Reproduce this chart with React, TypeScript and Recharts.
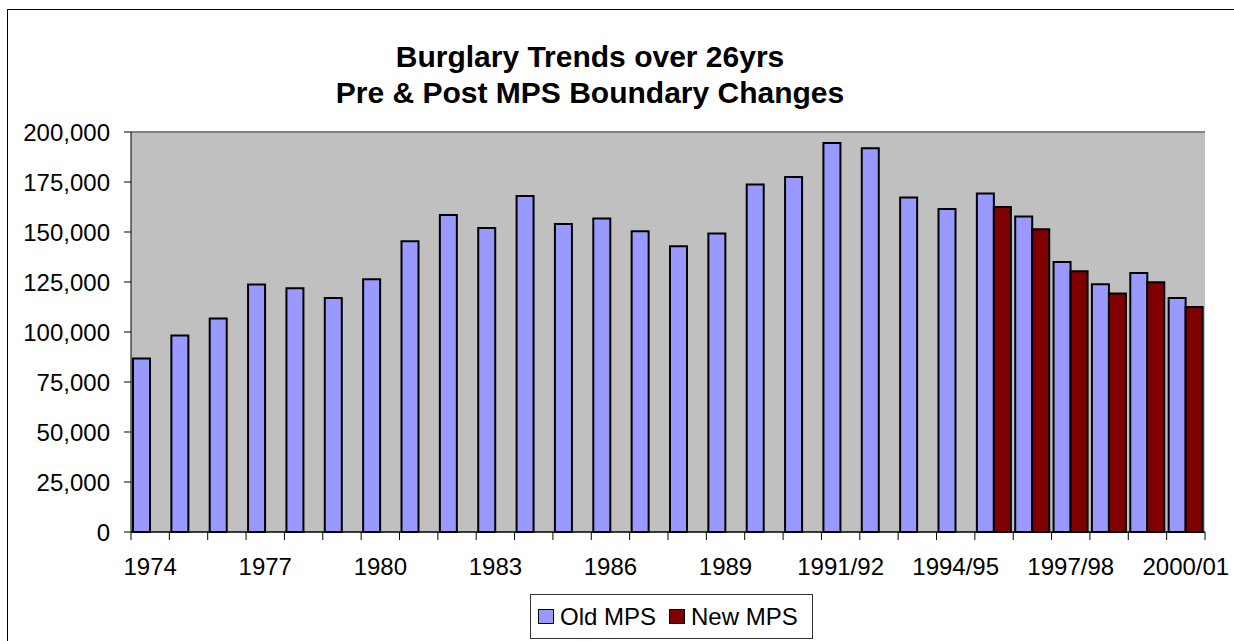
// Burglary trends bar chart: old vs new MPS boundaries, 1974 to 2000/01.
import { Bar, BarChart, CartesianGrid, Legend, ReferenceLine, XAxis, YAxis } from "recharts";

const categories = [
  "1974", "1975", "1976", "1977", "1978", "1979", "1980", "1981", "1982", "1983",
  "1984", "1985", "1986", "1987", "1988", "1989", "1990", "1990/91", "1991/92", "1992/93",
  "1993/94", "1994/95", "1995/96", "1996/97", "1997/98", "1998/99", "1999/00", "2000/01"
];

const oldMps = [
  86700, 98200, 106700, 123700, 121900, 117000, 126400, 145400, 158500, 152000,
  168000, 154000, 156700, 150400, 142900, 149200, 173700, 177500, 194500, 191900,
  167200, 161500, 169200, 157700, 135000, 123900, 129500, 117000
];

const newMps: (number | null)[] = [
  null, null, null, null, null, null, null, null, null, null,
  null, null, null, null, null, null, null, null, null, null,
  null, null, 162500, 151400, 130400, 119200, 124900, 112500
];

const xTickLabels = ["1974", "1977", "1980", "1983", "1986", "1989", "1991/92", "1994/95", "1997/98", "2000/01"];
const yTicks = [0, 25000, 50000, 75000, 100000, 125000, 150000, 175000, 200000];

const titleLines = ["Burglary Trends over 26yrs", "Pre & Post MPS Boundary Changes"];

const OLD_COLOR = "#9999FF";
const NEW_COLOR = "#800000";
const FONT = "'Liberation Sans', Arial, sans-serif";

const data = categories.map((c, i) => ({ name: c, old: oldMps[i], new: newMps[i] }));

// Excel-style category axis: tick marks between categories, labels every third category.
function CategoryTick(props: any) {
  const { x, y, payload, index } = props;
  const half = payload?.offset ?? 0;
  const isLast = index === categories.length - 1;
  return (
    <g>
      <line x1={x - half} x2={x - half} y1={y} y2={y + 8} stroke="#000" />
      {isLast && <line x1={x + half} x2={x + half} y1={y} y2={y + 8} stroke="#000" />}
      {xTickLabels.includes(payload.value) && (
        <text x={x} y={y + 26} dy="0.71em" textAnchor="middle" fill="#000" fontSize={24} fontFamily={FONT}>
          {payload.value}
        </text>
      )}
    </g>
  );
}

function LegendBox() {
  const items = [
    { label: "Old MPS", color: OLD_COLOR },
    { label: "New MPS", color: NEW_COLOR }
  ];
  return (
    <div
      style={{
        width: 283,
        height: 45,
        boxSizing: "border-box",
        border: "1px solid #333",
        background: "#fff",
        display: "flex",
        alignItems: "center",
        paddingLeft: 7,
        gap: 13,
        fontFamily: FONT,
        fontSize: 24,
        color: "#000"
      }}
    >
      {items.map((it) => (
        <span key={it.label} style={{ display: "flex", alignItems: "center", gap: 6 }}>
          <span
            style={{
              display: "inline-block",
              width: 16,
              height: 15,
              boxSizing: "border-box",
              border: "1.5px solid #000",
              background: it.color
            }}
          />
          {it.label}
        </span>
      ))}
    </div>
  );
}

export default function App() {
  return (
    <div style={{ position: "fixed", inset: 0, background: "#fff", overflow: "hidden" }}>
      <div
        style={{
          position: "absolute",
          left: 7,
          top: 9,
          width: 1300,
          height: 700,
          border: "1px solid #000"
        }}
      />
      <div
        style={{
          position: "absolute",
          left: 0,
          top: 39,
          width: 1180,
          textAlign: "center",
          fontFamily: FONT,
          fontWeight: "bold",
          fontSize: 30,
          lineHeight: "36px",
          color: "#000"
        }}
      >
        {titleLines.map((t) => (
          <div key={t}>{t}</div>
        ))}
      </div>
      <div style={{ position: "absolute", left: 0, top: 0 }}>
        <BarChart
          width={1234}
          height={641}
          data={data}
          margin={{ top: 132, right: 29, bottom: 49, left: 0 }}
          barCategoryGap={2}
          barGap={0}
        >
          <CartesianGrid vertical={false} stroke="#000" fill="#C0C0C0" fillOpacity={1} />
          <XAxis
            dataKey="name"
            interval={0}
            height={60}
            tickSize={0}
            tickMargin={0}
            axisLine={{ stroke: "#000" }}
            tickLine={false}
            tick={<CategoryTick />}
          />
          <YAxis
            yAxisId="left"
            width={131}
            domain={[0, 200000]}
            ticks={yTicks}
            tickSize={7}
            tickMargin={14}
            axisLine={{ stroke: "#000" }}
            tickLine={{ stroke: "#000" }}
            tick={{ fill: "#000", fontSize: 24, fontFamily: FONT }}
            tickFormatter={(v: number) => v.toLocaleString("en-US")}
          />
          <YAxis
            yAxisId="right"
            orientation="right"
            width={0}
            domain={[0, 200000]}
            ticks={yTicks}
            tick={false}
            tickLine={false}
            axisLine={{ stroke: "#808080", strokeWidth: 2 }}
          />
          <ReferenceLine yAxisId="left" y={200000} stroke="#808080" strokeWidth={2} />
          <Bar yAxisId="left" dataKey="old" name="Old MPS" fill={OLD_COLOR} stroke="#000" strokeWidth={2} isAnimationActive={false} />
          <Bar yAxisId="left" dataKey="new" name="New MPS" fill={NEW_COLOR} stroke="#000" strokeWidth={2} isAnimationActive={false} />
          <Legend
            layout="horizontal"
            verticalAlign="middle"
            align="center"
            content={() => <LegendBox />}
            wrapperStyle={{ position: "absolute", left: 530, top: 594, width: 283, height: 45 }}
          />
        </BarChart>
      </div>
    </div>
  );
}
